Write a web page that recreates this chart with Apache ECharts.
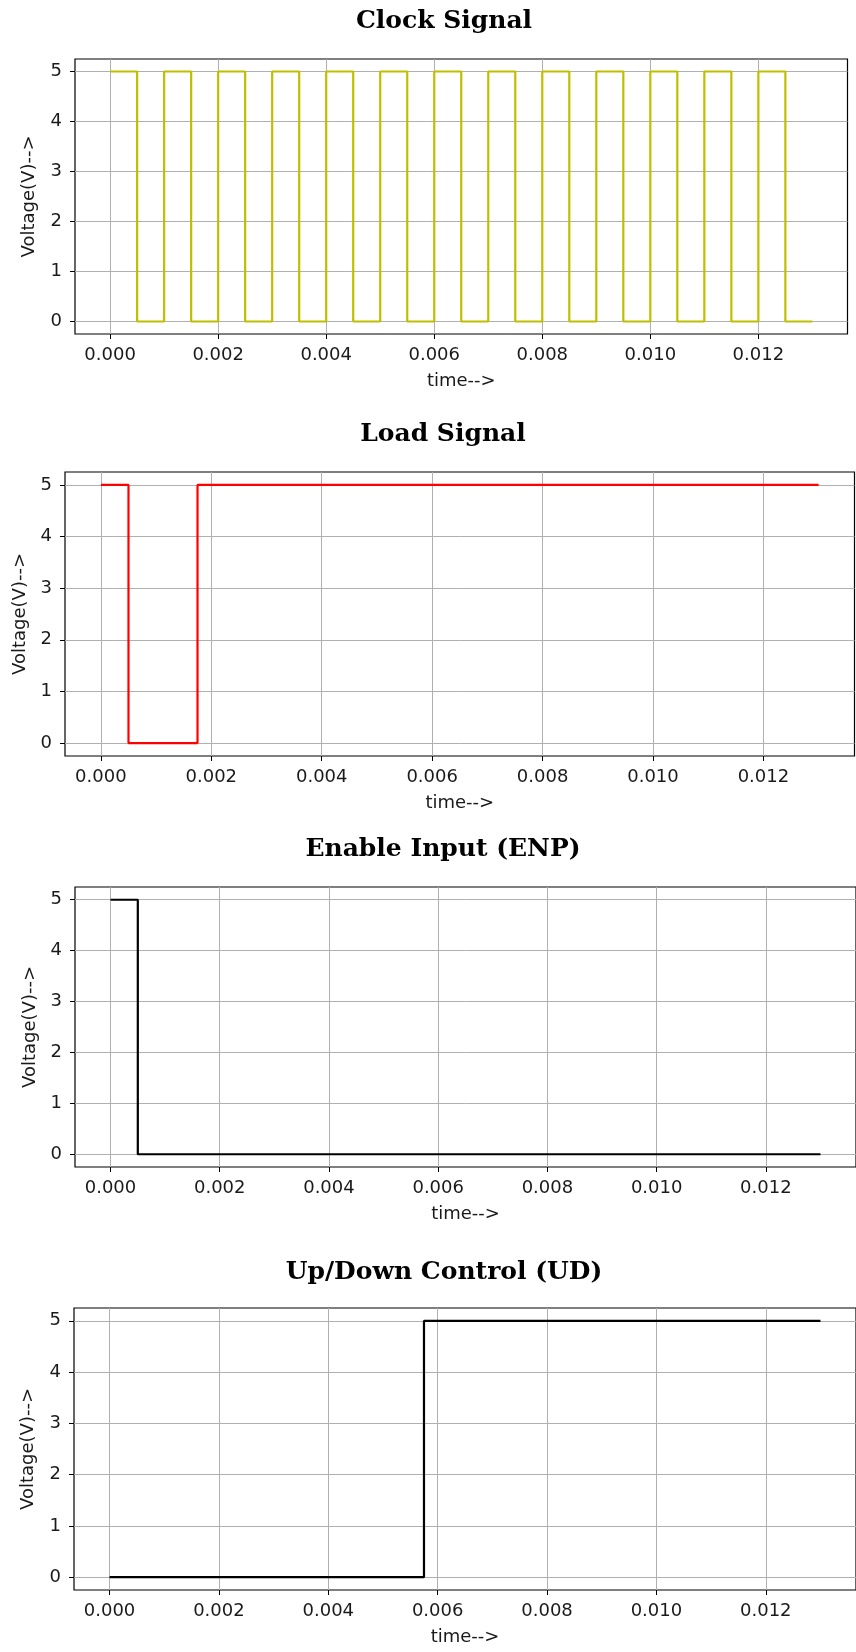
<!DOCTYPE html>
<html>
<head>
<meta charset="utf-8">
<script src="https://cdn.jsdelivr.net/npm/echarts@6/dist/echarts.min.js"></script>
<style>
html,body{margin:0;padding:0;background:#fff;}
#chart{width:856px;height:1652px;}
</style>
</head>
<body>
<div id="chart"></div>
<script>
// ---- data ----
var titles = ['Clock Signal', 'Load Signal', 'Enable Input (ENP)', 'Up/Down Control (UD)'];
var xAxisName = 'time-->';
var yAxisName = 'Voltage(V)-->';

var clockT = [0, 0.0005, 0.001, 0.0015, 0.002, 0.0025, 0.003, 0.0035, 0.004, 0.0045, 0.005, 0.0055, 0.006, 0.0065, 0.007, 0.0075, 0.008, 0.0085, 0.009, 0.0095, 0.010, 0.0105, 0.011, 0.0115, 0.012, 0.0125, 0.013];
var clockV = [5, 0, 5, 0, 5, 0, 5, 0, 5, 0, 5, 0, 5, 0, 5, 0, 5, 0, 5, 0, 5, 0, 5, 0, 5, 0, 0];

var loadT = [0, 0.0005, 0.00175, 0.013];
var loadV = [5, 0, 5, 5];

var enpT = [0, 0.0005, 0.013];
var enpV = [5, 0, 0];

var udT = [0, 0.00575, 0.013];
var udV = [0, 5, 5];

var signalTimes = [clockT, loadT, enpT, udT];
var signalValues = [clockV, loadV, enpV, udV];
var signalColors = ['#bfbf00', '#ff0000', '#000000', '#000000'];

// ---- layout ----
var grids = [
  {left: 75, right: 8.5, top: 59, height: 275},
  {left: 65, right: 1.5, top: 472, height: 284},
  {left: 75, right: -3, top: 887, height: 280},
  {left: 74, right: -8, top: 1308, height: 282}
];
var titleCenters = [[444, 21], [443, 434], [443, 849], [444, 1272]];
var yNameGaps = [37, 33, 35, 37];

function pairs(ts, vs) {
  return ts.map(function (t, i) { return [t, vs[i]]; });
}

var tickFont = {fontFamily: 'DejaVu Sans', fontSize: 18, color: '#1a1a1a'};

var option = {
  animation: false,
  backgroundColor: '#fff',
  grid: grids.map(function (g) {
    return {left: g.left, right: g.right, top: g.top, height: g.height,
      show: true, borderColor: '#000', borderWidth: 1.2, backgroundColor: 'transparent', containLabel: false};
  }),
  xAxis: grids.map(function (g, i) {
    return {
      type: 'value', gridIndex: i,
      min: -0.00065, max: 0.01365,
      splitNumber: 7, minInterval: 0.002, maxInterval: 0.002,
      name: xAxisName, nameLocation: 'middle', nameGap: 38,
      nameTextStyle: {fontFamily: 'DejaVu Sans', fontSize: 18, color: '#1a1a1a'},
      axisLine: {show: false, onZero: false},
      axisTick: {show: true, inside: false, length: 5, lineStyle: {color: '#000', width: 1}},
      axisLabel: Object.assign({margin: 12, showMinLabel: false, showMaxLabel: false,
        formatter: function (v) { return v.toFixed(3); }}, tickFont),
      splitLine: {show: true, showMinLine: false, showMaxLine: false, lineStyle: {color: '#b0b0b0', width: 1}}
    };
  }),
  yAxis: grids.map(function (g, i) {
    return {
      type: 'value', gridIndex: i,
      min: -0.25, max: 5.25,
      splitNumber: 5, minInterval: 1, maxInterval: 1,
      name: yAxisName, nameLocation: 'middle', nameGap: yNameGaps[i], nameRotate: 90,
      nameTextStyle: {fontFamily: 'DejaVu Sans', fontSize: 18, color: '#1a1a1a'},
      axisLine: {show: false, onZero: false},
      axisTick: {show: true, inside: false, length: 5, lineStyle: {color: '#000', width: 1}},
      axisLabel: Object.assign({margin: 13, showMinLabel: false, showMaxLabel: false,
        formatter: function (v) { return String(Math.round(v)); }}, tickFont),
      splitLine: {show: true, showMinLine: false, showMaxLine: false, lineStyle: {color: '#b0b0b0', width: 1}}
    };
  }),
  series: signalTimes.map(function (ts, i) {
    return {
      type: 'line', xAxisIndex: i, yAxisIndex: i,
      step: 'end', showSymbol: false, symbol: 'none',
      data: pairs(ts, signalValues[i]),
      lineStyle: {color: signalColors[i], width: 2.2},
      itemStyle: {color: signalColors[i]}
    };
  }),
  graphic: titles.map(function (t, i) {
    return {
      type: 'text', x: titleCenters[i][0], y: titleCenters[i][1],
      style: {text: t, fontFamily: 'DejaVu Serif', fontWeight: 'bold', fontSize: 25,
        fill: '#000', textAlign: 'center', textVerticalAlign: 'middle'}
    };
  })
};

var chart = echarts.init(document.getElementById('chart'), null, {renderer: 'canvas'});
chart.setOption(option);
</script>
</body>
</html>
